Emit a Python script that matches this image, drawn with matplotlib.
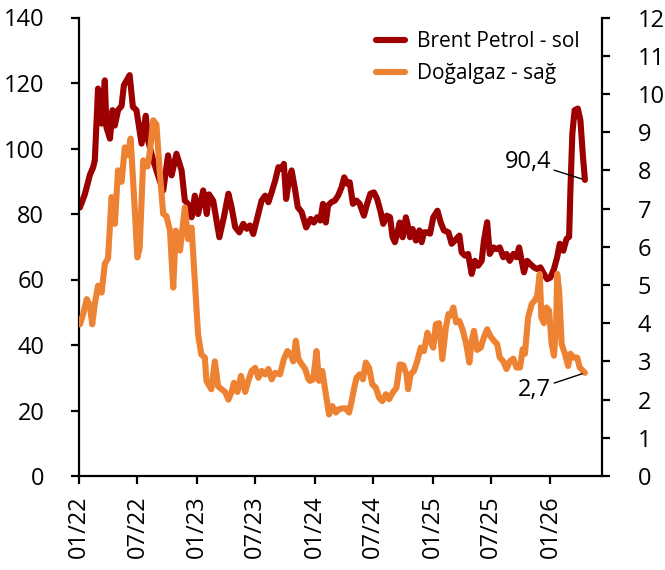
import matplotlib
matplotlib.use('Agg')
import matplotlib.pyplot as plt
import matplotlib.dates as mdates
import pandas as pd

# ---------------- data ----------------
brent_dates = [
    "2022-01-04", "2022-01-19", "2022-02-04", "2022-02-14", "2022-02-19", "2022-03-01",
    "2022-03-07", "2022-03-12", "2022-03-22", "2022-03-27", "2022-04-07", "2022-04-15",
    "2022-04-22", "2022-05-02", "2022-05-13", "2022-05-20", "2022-06-07", "2022-06-17",
    "2022-06-28", "2022-07-14", "2022-07-27", "2022-08-03", "2022-08-19", "2022-08-29",
    "2022-09-08", "2022-09-19", "2022-10-04", "2022-10-15", "2022-10-30", "2022-11-15",
    "2022-11-25", "2022-12-05", "2022-12-16", "2022-12-26", "2023-01-05", "2023-01-21",
    "2023-02-01", "2023-02-08", "2023-02-21", "2023-03-12", "2023-03-26", "2023-04-09",
    "2023-04-19", "2023-04-30", "2023-05-13", "2023-05-25", "2023-06-05", "2023-06-15",
    "2023-06-25", "2023-07-08", "2023-07-21", "2023-08-01", "2023-08-11", "2023-08-21",
    "2023-09-01", "2023-09-11", "2023-09-21", "2023-09-28", "2023-10-05", "2023-10-12",
    "2023-10-22", "2023-11-02", "2023-11-10", "2023-11-22", "2023-12-06", "2023-12-20",
    "2023-12-30", "2024-01-09", "2024-01-19", "2024-01-27", "2024-02-05", "2024-02-12",
    "2024-02-22", "2024-03-04", "2024-03-14", "2024-03-25", "2024-04-02", "2024-04-12",
    "2024-04-19", "2024-04-29", "2024-05-10", "2024-05-20", "2024-06-02", "2024-06-12",
    "2024-06-22", "2024-07-03", "2024-07-13", "2024-07-24", "2024-08-01", "2024-08-12",
    "2024-08-22", "2024-08-30", "2024-09-06", "2024-09-14", "2024-09-21", "2024-09-30",
    "2024-10-10", "2024-10-14", "2024-10-23", "2024-10-31", "2024-11-10", "2024-11-21",
    "2024-11-28", "2024-12-05", "2024-12-14", "2024-12-24", "2025-01-03", "2025-01-16",
    "2025-01-26", "2025-02-05", "2025-02-19", "2025-03-01", "2025-03-11", "2025-03-25",
    "2025-04-01", "2025-04-11", "2025-04-21", "2025-05-02", "2025-05-12", "2025-05-22",
    "2025-06-02", "2025-06-09", "2025-06-19", "2025-06-27", "2025-07-08", "2025-07-18",
    "2025-07-28", "2025-08-08", "2025-08-18", "2025-08-28", "2025-09-08", "2025-09-18",
    "2025-09-26", "2025-10-04", "2025-10-11", "2025-10-21", "2025-10-31", "2025-11-11",
    "2025-11-21", "2025-12-01", "2025-12-12", "2025-12-22", "2026-01-01", "2026-01-12",
    "2026-01-22", "2026-01-30", "2026-02-10", "2026-02-20", "2026-02-28", "2026-03-04",
    "2026-03-10", "2026-03-17", "2026-03-27", "2026-04-04", "2026-04-12", "2026-04-18",
]
brent_values = [
    82.0, 86.0, 92.0, 94.3, 96.4, 118.3,
    115.0, 107.6, 120.8, 106.5, 103.0, 111.7,
    107.0, 111.7, 113.0, 119.3, 122.4, 112.7,
    111.7, 101.5, 110.0, 102.5, 96.4, 93.3,
    90.2, 87.2, 97.9, 91.8, 98.4, 93.3,
    84.1, 83.0, 79.0, 85.6, 80.0, 87.2,
    80.0, 86.0, 84.0, 72.9, 79.0, 86.2,
    82.0, 76.0, 74.4, 77.0, 75.5, 76.5,
    73.9, 79.0, 84.1, 85.6, 83.6, 86.6,
    90.2, 94.3, 93.8, 95.3, 84.6, 89.2,
    93.3, 87.2, 82.1, 80.6, 75.9, 78.5,
    77.4, 79.0, 78.0, 83.1, 77.4, 82.6,
    83.6, 84.1, 85.6, 88.2, 91.2, 89.2,
    89.7, 83.1, 84.1, 83.1, 79.5, 83.1,
    86.2, 86.6, 84.6, 80.6, 77.0, 79.5,
    79.0, 72.9, 71.4, 74.4, 77.4, 72.9,
    79.0, 77.4, 72.9, 75.4, 71.9, 75.0,
    71.4, 74.4, 74.4, 74.0, 79.0, 81.0,
    77.4, 75.0, 74.4, 70.9, 71.9, 73.4,
    68.3, 67.3, 67.8, 61.7, 65.7, 64.2,
    65.7, 71.9, 77.5, 67.8, 69.8, 69.3,
    69.8, 66.8, 67.8, 65.7, 67.8, 66.8,
    69.8, 65.7, 62.2, 65.7, 64.7, 63.7,
    63.2, 63.7, 61.7, 60.1, 60.6, 63.2,
    66.8, 70.9, 68.8, 72.4, 73.0, 87.2,
    104.5, 111.7, 112.2, 108.6, 97.4, 90.4,
]

gas_dates = [
    "2022-01-04", "2022-01-14", "2022-01-25", "2022-02-04", "2022-02-11", "2022-02-19",
    "2022-03-01", "2022-03-12", "2022-03-22", "2022-04-01", "2022-04-12", "2022-04-22",
    "2022-05-02", "2022-05-13", "2022-05-23", "2022-06-02", "2022-06-10", "2022-06-23",
    "2022-07-01", "2022-07-08", "2022-07-19", "2022-08-01", "2022-08-09", "2022-08-19",
    "2022-08-29", "2022-09-08", "2022-09-19", "2022-09-29", "2022-10-10", "2022-10-20",
    "2022-10-28", "2022-11-10", "2022-11-25", "2022-12-05", "2022-12-16", "2022-12-26",
    "2023-01-05", "2023-01-15", "2023-01-26", "2023-01-31", "2023-02-15", "2023-02-26",
    "2023-03-08", "2023-03-19", "2023-03-30", "2023-04-09", "2023-04-19", "2023-04-26",
    "2023-05-07", "2023-05-18", "2023-05-31", "2023-06-10", "2023-06-20", "2023-07-01",
    "2023-07-11", "2023-07-21", "2023-08-01", "2023-08-11", "2023-08-21", "2023-09-01",
    "2023-09-16", "2023-09-28", "2023-10-09", "2023-10-19", "2023-10-27", "2023-11-04",
    "2023-11-12", "2023-11-22", "2023-12-03", "2023-12-13", "2023-12-18", "2023-12-28",
    "2024-01-07", "2024-01-15", "2024-01-25", "2024-02-05", "2024-02-15", "2024-02-25",
    "2024-03-07", "2024-03-17", "2024-03-28", "2024-04-07", "2024-04-17", "2024-04-25",
    "2024-05-02", "2024-05-10", "2024-05-20", "2024-05-30", "2024-06-08", "2024-06-18",
    "2024-06-28", "2024-07-09", "2024-07-19", "2024-07-29", "2024-08-09", "2024-08-19",
    "2024-08-30", "2024-09-11", "2024-09-21", "2024-10-02", "2024-10-12", "2024-10-17",
    "2024-10-25", "2024-11-04", "2024-11-14", "2024-11-25", "2024-12-05", "2024-12-16",
    "2024-12-24", "2025-01-03", "2025-01-11", "2025-01-21", "2025-01-31", "2025-02-11",
    "2025-02-19", "2025-02-26", "2025-03-06", "2025-03-15", "2025-03-25", "2025-04-05",
    "2025-04-15", "2025-04-25", "2025-05-02", "2025-05-09", "2025-05-19", "2025-05-30",
    "2025-06-09", "2025-06-19", "2025-06-29", "2025-07-10", "2025-07-20", "2025-07-28",
    "2025-08-08", "2025-08-18", "2025-08-28", "2025-09-08", "2025-09-18", "2025-09-29",
    "2025-10-07", "2025-10-14", "2025-10-24", "2025-11-04", "2025-11-14", "2025-11-21",
    "2025-11-29", "2025-12-04", "2025-12-12", "2025-12-20", "2025-12-28", "2026-01-05",
    "2026-01-12", "2026-01-19", "2026-01-22", "2026-01-28", "2026-02-05", "2026-02-15",
    "2026-02-25", "2026-03-04", "2026-03-14", "2026-03-25", "2026-04-02", "2026-04-12",
    "2026-04-18",
]
gas_values = [
    3.97, 4.24, 4.63, 4.45, 3.97, 4.50,
    4.98, 4.80, 5.55, 5.70, 7.30, 6.60,
    8.00, 7.70, 8.60, 8.40, 8.83, 6.95,
    5.72, 5.97, 8.26, 8.10, 8.50, 9.31,
    9.20, 7.99, 6.86, 6.80, 6.42, 4.93,
    6.42, 5.90, 7.03, 6.20, 6.50, 5.10,
    3.71, 3.18, 3.10, 2.49, 2.27, 3.00,
    2.35, 2.27, 2.20, 2.00, 2.20, 2.44,
    2.20, 2.62, 2.20, 2.50, 2.75, 2.83,
    2.57, 2.75, 2.66, 2.80, 2.53, 2.70,
    2.66, 3.06, 3.27, 3.18, 3.00, 3.54,
    3.06, 2.93, 2.80, 2.53, 2.49, 2.53,
    3.27, 2.49, 2.75, 2.14, 1.61, 1.83,
    1.66, 1.75, 1.77, 1.77, 1.66, 1.96,
    2.27, 2.57, 2.66, 2.53, 2.97, 2.83,
    2.40, 2.31, 2.05, 1.96, 2.14, 2.01,
    2.18, 2.31, 2.92, 2.90, 2.66, 2.27,
    2.66, 2.75, 3.00, 3.36, 3.27, 3.75,
    3.54, 3.36, 3.97, 4.00, 3.06, 3.88,
    4.24, 4.20, 4.41, 4.02, 4.06, 3.80,
    3.45, 2.97, 3.54, 3.80, 3.30, 3.36,
    3.63, 3.84, 3.66, 3.54, 3.45, 3.10,
    3.00, 2.80, 3.00, 3.07, 2.84, 2.84,
    3.32, 3.20, 4.15, 4.50, 4.60, 4.72,
    5.29, 4.15, 4.00, 4.41, 4.33, 3.45,
    3.15, 4.00, 5.29, 4.85, 3.45, 3.20,
    2.88, 3.20, 3.10, 3.10, 2.84, 2.75,
    2.70,
]

series_labels = ["Brent Petrol - sol", "Doğalgaz - sağ"]
left_ticks = [0, 20, 40, 60, 80, 100, 120, 140]
right_ticks = [0, 1, 2, 3, 4, 5, 6, 7, 8, 9, 10, 11, 12]
brent_last_label = "90,4"
gas_last_label = "2,7"

# ---------------- style ----------------
plt.rcParams['font.family'] = ['Open Sans', 'DejaVu Sans']
BRENT_C = "#9C0000"
GAS_C = "#EE8233"
TICK_FS = 17

W, H = 665, 570
fig = plt.figure(figsize=(W / 100, H / 100), dpi=100)
ax = fig.add_axes([79 / W, 1 - 476 / H, (601.7 - 79) / W, (476 - 17.5) / H])
ax2 = ax.twinx()

bd = pd.to_datetime(brent_dates)
gd = pd.to_datetime(gas_dates)

l1, = ax.plot(bd, brent_values, color=BRENT_C, lw=4.4, solid_joinstyle='round',
              solid_capstyle='round', label=series_labels[0])
l2, = ax2.plot(gd, gas_values, color=GAS_C, lw=4.4, solid_joinstyle='round',
               solid_capstyle='round', label=series_labels[1])

ax.set_ylim(0, 140)
ax2.set_ylim(0, 12)
ax.set_yticks(left_ticks)
ax2.set_yticks(right_ticks)
ax.set_xlim(pd.Timestamp("2022-01-01"), pd.Timestamp("2026-06-09"))
ax.xaxis.set_major_locator(mdates.MonthLocator(bymonth=[1, 7]))
ax.xaxis.set_major_formatter(mdates.DateFormatter('%m/%y'))

for a in (ax, ax2):
    a.spines['top'].set_visible(False)
    for s in a.spines.values():
        s.set_linewidth(1.6)
ax.spines['right'].set_visible(False)
ax2.spines['left'].set_visible(False)
ax2.spines['bottom'].set_visible(False)

ax.tick_params(axis='y', direction='out', length=6, width=1.6, labelsize=TICK_FS, pad=19)
ax2.tick_params(axis='y', direction='out', length=6, width=1.6, labelsize=TICK_FS, pad=20)
ax.tick_params(axis='x', direction='out', length=6, width=1.6, labelsize=TICK_FS, pad=8,
               labelrotation=90)

# end-value annotations
ax.annotate(brent_last_label, xy=(bd[-1], brent_values[-1]), xytext=(-41, 13),
            textcoords='offset points', ha='center', va='center', fontsize=TICK_FS,
            arrowprops=dict(arrowstyle='-', color='black', lw=1.0, shrinkA=0, shrinkB=2))
ax2.annotate(gas_last_label, xy=(gd[-1], gas_values[-1]), xytext=(-36, -12),
             textcoords='offset points', ha='center', va='center', fontsize=TICK_FS,
             arrowprops=dict(arrowstyle='-', color='black', lw=1.0, shrinkA=0, shrinkB=2))

leg = ax2.legend(handles=[l1, l2], labels=series_labels, loc='upper left',
                 bbox_to_anchor=(376 / W, 1 - 31 / H), bbox_transform=fig.transFigure,
                 frameon=False, fontsize=15, handlelength=1.4, handletextpad=0.55,
                 labelspacing=0.55, borderpad=0, borderaxespad=0)

fig.savefig("out.png", dpi=100)
